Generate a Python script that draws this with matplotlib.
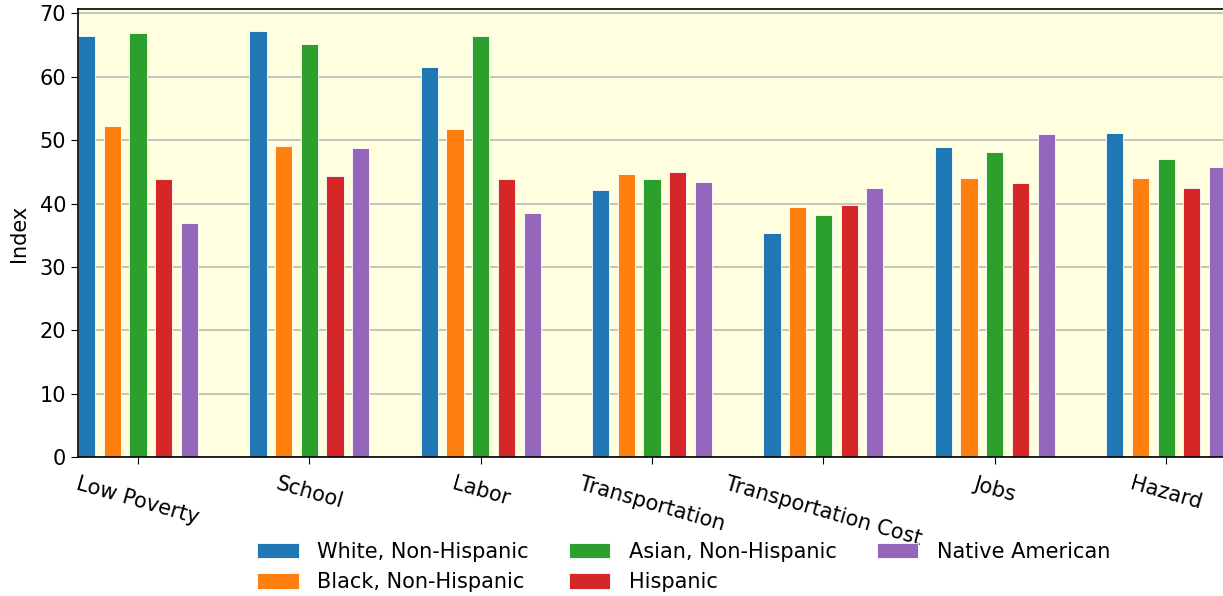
import numpy as np
import matplotlib
matplotlib.use("Agg")
import matplotlib.pyplot as plt

# --- DATA ---
categories = ["Low Poverty", "School", "Labor", "Transportation",
              "Transportation Cost", "Jobs", "Hazard"]
groups = ["White, Non-Hispanic", "Black, Non-Hispanic", "Asian, Non-Hispanic",
          "Hispanic", "Native American"]
white = [66.4, 67.3, 61.5, 42.2, 35.3, 48.9, 51.2]
black = [52.3, 49.1, 51.7, 44.7, 39.5, 44.0, 44.0]
asian = [66.9, 65.1, 66.4, 43.8, 38.2, 48.1, 47.0]
hispanic = [43.8, 44.3, 43.8, 45.0, 39.7, 43.3, 42.5]
native = [36.9, 48.8, 38.5, 43.4, 42.4, 50.9, 45.8]
series = [white, black, asian, hispanic, native]
colors = ["#1f77b4", "#ff7f0e", "#2ca02c", "#d62728", "#9467bd"]

plt.rcParams["font.size"] = 15

fig = plt.figure(figsize=(12.23, 5.96), dpi=100)
ax = fig.add_axes([0.0638, 0.2332, 0.9387, 0.7517])

x = np.arange(len(categories))
step = 0.15
width = 0.1
for i, (vals, name, c) in enumerate(zip(series, groups, colors)):
    ax.bar(x + (i - 2) * step, vals, width=width, color=c, label=name,
           edgecolor="white", linewidth=0.6, zorder=2)

ax.set_facecolor("#ffffe0")
ax.set_xlim(-0.35, len(categories) - 1 + 0.35)
ax.set_ylim(0, 70.7)
ax.set_yticks(range(0, 71, 10))
ax.yaxis.grid(True, color="#bbbbbb", linewidth=1.2)
ax.set_axisbelow(True)

ax.set_xticks(x)
ax.set_xticklabels(categories, rotation=-16, ha="center")
ax.tick_params(axis="x", pad=7, length=5)
ax.tick_params(axis="y", length=5)
ax.set_ylabel("Index")
ax.yaxis.set_label_coords(-0.043, 0.5)

for s in ax.spines.values():
    s.set_color("black")
    s.set_linewidth(1.2)
    s.set_zorder(3)

fig.legend(loc="upper center", bbox_to_anchor=(0.559, 0.105), ncol=3,
           frameon=False, handlelength=2.0, handleheight=0.75,
           handletextpad=0.9, columnspacing=1.9, labelspacing=0.5,
           borderaxespad=0)

fig.savefig("out.png", dpi=100)
